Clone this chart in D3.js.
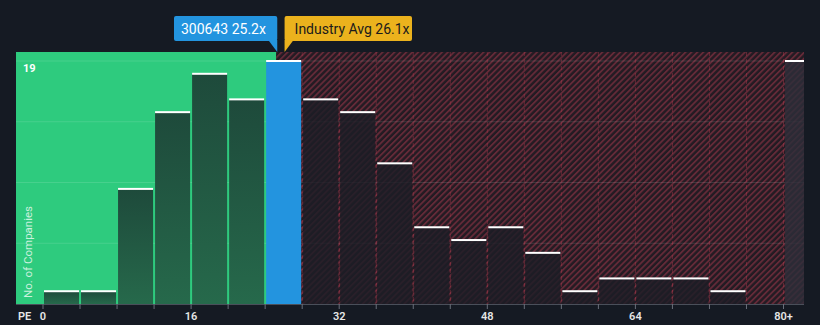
<!DOCTYPE html>
<html><head><meta charset="utf-8">
<script src="https://cdn.jsdelivr.net/npm/d3@7"></script>
<style>
html,body{margin:0;padding:0;background:#151a23;}
svg{display:block;font-family:Roboto,"Noto Sans",sans-serif;}
</style></head>
<body><svg id="c" width="820" height="325"></svg>
<script>
const binStarts = [0,4,8,12,16,20,24,28,32,36,40,44,48,52,56,60,64,68,72,76];
const counts    = [1,1,9,15,18,16,19,16,15,11,6,5,6,4,1,2,2,2,1,0];
const overflowLabel = "80+";
const overflowCount = 19;
const tickValues = [0,16,32,48,64,80];
const tickLabels = ["0","16","32","48","64","80+"];
const companyName = "300643";
const companyPE = 25.2;
const industryPE = 26.1;
const yMax = 19;
const yAxisLabel = "No. of Companies";

(function(){
const svg = d3.select("#c");
const x = d3.scaleLinear().domain([0,80]).range([43,783.5]);
const y = d3.scaleLinear().domain([0,yMax]).range([304,61]);
const L = 16, R = 804, T = 52, B = 304;

const defs = svg.append("defs");
const pat = defs.append("pattern").attr("id","hatch").attr("patternUnits","userSpaceOnUse")
  .attr("width",4.2).attr("height",4.2).attr("patternTransform","rotate(45)");
pat.append("rect").attr("width",4.2).attr("height",4.2).attr("fill","#231b23");
pat.append("rect").attr("width",1.8).attr("height",4.2).attr("fill","#642a38");
const gg = defs.append("linearGradient").attr("id","gbar").attr("x1",0).attr("y1",0).attr("x2",0).attr("y2",1);
gg.append("stop").attr("offset","0%").attr("stop-color","#1e4a3b");
gg.append("stop").attr("offset","100%").attr("stop-color","#26694b");

const xc = x(companyPE);
svg.append("rect").attr("x",L).attr("y",T).attr("width",xc-L).attr("height",B-T).attr("fill","#2ecb7e");
svg.append("rect").attr("x",xc).attr("y",T).attr("width",R-xc).attr("height",B-T).attr("fill","url(#hatch)");

[0.25,0.5,0.75,1].forEach(f=>{
  svg.append("line").attr("x1",L).attr("x2",R).attr("y1",y(yMax*f)).attr("y2",y(yMax*f))
    .attr("stroke","rgba(255,255,255,0.12)").attr("stroke-width",1);
});

const edges = binStarts.concat([80]);
edges.forEach(v=>{
  const xv = x(v);
  if (xv > xc) {
    svg.append("line").attr("x1",xv).attr("x2",xv).attr("y1",T).attr("y2",B)
      .attr("stroke","rgba(190,60,80,0.4)").attr("stroke-width",1).attr("stroke-dasharray","4,3");
  }
});

const bw = x(4)-x(0);
binStarts.forEach((b,i)=>{
  const c = counts[i];
  if (c<=0) return;
  const x0 = x(b)+1, w = bw-2;
  const isCompany = companyPE>=b && companyPE<b+4;
  let fill;
  if (isCompany) fill = "#2394df";
  else if (b+4 <= companyPE) fill = "url(#gbar)";
  else fill = "rgba(28,29,38,0.82)";
  svg.append("rect").attr("x",x0).attr("y",y(c)).attr("width",w).attr("height",B-y(c)).attr("fill",fill);
  svg.append("rect").attr("x",x0).attr("y",y(c)-1).attr("width",w).attr("height",2).attr("fill","#ffffff");
});
const ox = x(80)+1.5;
svg.append("rect").attr("x",ox).attr("y",y(overflowCount)).attr("width",R-ox).attr("height",B-y(overflowCount)).attr("fill","rgba(45,46,58,0.8)");
svg.append("rect").attr("x",ox).attr("y",y(overflowCount)-1).attr("width",R-ox).attr("height",2).attr("fill","#fff");

svg.append("line").attr("x1",L).attr("x2",R).attr("y1",B+0.5).attr("y2",B+0.5).attr("stroke","#4a4f5a").attr("stroke-width",1);
edges.forEach(v=>{
  svg.append("line").attr("x1",x(v)).attr("x2",x(v)).attr("y1",B).attr("y2",B+5).attr("stroke","#6a6f7a").attr("stroke-width",1);
});
tickValues.forEach((v,i)=>{
  svg.append("text").attr("x",x(v)).attr("y",320).attr("text-anchor","middle").attr("fill","#e6e6e6")
    .attr("font-size",11).attr("font-weight",600).text(tickLabels[i]);
});
svg.append("text").attr("x",18).attr("y",320).attr("fill","#e6e6e6").attr("font-size",11).attr("font-weight",600).text("PE");

svg.append("text").attr("x",23).attr("y",72).attr("fill","#ffffff").attr("font-size",11).attr("font-weight",700).text(String(yMax));
svg.append("text").attr("transform","translate(32,252) rotate(-90)").attr("text-anchor","middle")
  .attr("fill","rgba(255,255,255,0.75)").attr("font-size",11.5).text(yAxisLabel);

const xi = x(industryPE);
const cb = svg.append("g");
cb.append("rect").attr("x",174).attr("y",16).attr("width",xc+1-174).attr("height",25).attr("rx",2).attr("fill","#2394df");
cb.append("path").attr("d",`M${xc-8},40 L${xc+1},40 L${xc+1},52 Z`).attr("fill","#2394df");
cb.append("text").attr("x",181).attr("y",33.5).attr("fill","#fff").attr("font-size",14).text(`${companyName} ${companyPE}x`);
const ib = svg.append("g");
ib.append("rect").attr("x",xi).attr("y",16).attr("width",412-xi).attr("height",25).attr("rx",2).attr("fill","#ebb21d");
ib.append("path").attr("d",`M${xi},40 L${xi+9},40 L${xi},52 Z`).attr("fill","#ebb21d");
ib.append("text").attr("x",xi+10).attr("y",33.5).attr("fill","#1b1b1b").attr("font-size",14).text(`Industry Avg ${industryPE}x`);
})();
</script></body></html>
